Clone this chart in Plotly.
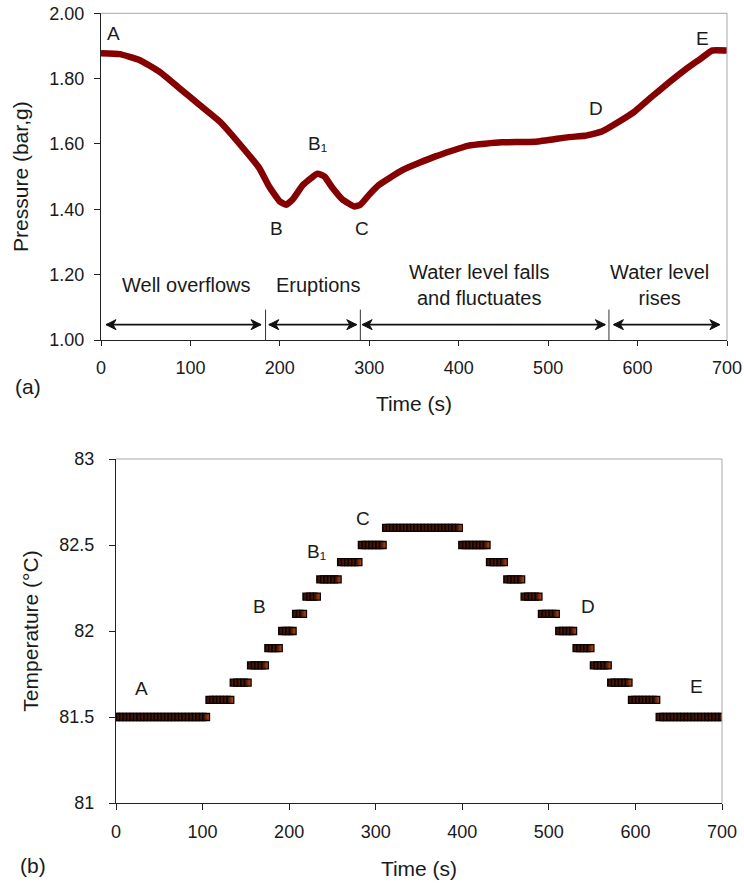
import plotly.graph_objects as go

# ---------------- data: panel (a) pressure ----------------
time_a = [0, 21, 43, 66, 88, 110, 133, 155, 177, 188, 200, 207, 214, 226, 242,
          250, 259, 270, 283, 290, 300, 311, 337, 374, 411, 448, 486, 523, 541,
          560, 579, 597, 616, 634, 653, 671, 683, 700]
pressure = [1.878, 1.875, 1.857, 1.82, 1.77, 1.72, 1.668, 1.60, 1.526, 1.47,
            1.424, 1.414, 1.429, 1.475, 1.509, 1.50, 1.465, 1.43, 1.409, 1.414,
            1.445, 1.475, 1.52, 1.562, 1.595, 1.605, 1.607, 1.621, 1.625, 1.638,
            1.668, 1.70, 1.745, 1.786, 1.827, 1.862, 1.886, 1.886]

phase_bounds = [184, 290, 568]
phase_arrows = [(5.6, 179), (187.6, 286), (292, 564), (573, 692)]
phase_labels = ["Well overflows", "Eruptions",
                "Water level falls<br>and fluctuates", "Water level<br>rises"]
phase_label_x = [95.5, 243, 422.5, 625]

points_a = ["A", "B", "B\u2081", "C", "D", "E"]
points_a_x = [14, 196, 242, 292, 554, 673]
points_a_y = [1.939, 1.342, 1.602, 1.342, 1.709, 1.924]

# ---------------- data: panel (b) temperature (step levels) ----------------
SAMPLE_S = 4  # logger sampling interval (s)
step_start = [0, 108, 136, 156, 176, 192, 208, 220, 236, 260, 284, 312,
              400, 432, 452, 472, 492, 512, 532, 552, 572, 596, 628]
step_end = [104, 132, 152, 172, 188, 204, 216, 232, 256, 280, 308, 396,
            428, 448, 468, 488, 508, 528, 548, 568, 592, 624, 700]
step_temp = [81.5, 81.6, 81.7, 81.8, 81.9, 82.0, 82.1, 82.2, 82.3, 82.4, 82.5, 82.6,
             82.5, 82.4, 82.3, 82.2, 82.1, 82.0, 81.9, 81.8, 81.7, 81.6, 81.5]

points_b = ["A", "B", "B\u2081", "C", "D", "E"]
points_b_x = [29.6, 166, 231.7, 284.8, 545.4, 670.5]
points_b_y = [81.667, 82.14, 82.46, 82.655, 82.14, 81.676]

time_ticks = [0, 100, 200, 300, 400, 500, 600, 700]

# ---------------- figure ----------------
W, H = 744, 883
FONT = "Liberation Sans, Arial, sans-serif"
TXT = "#1a1a1a"


def px_x(p):
    return p / W


def px_y(p):
    return 1 - p / H


fig = go.Figure()

fig.add_trace(go.Scatter(
    x=time_a, y=pressure, mode="lines",
    line=dict(color="#850000", width=6.5, shape="spline", smoothing=0.4),
    xaxis="x", yaxis="y", showlegend=False, hoverinfo="x+y"))

tb, Tb = [], []
for s, e, v in zip(step_start, step_end, step_temp):
    t = s
    while t <= e:
        tb.append(t)
        Tb.append(v)
        t += SAMPLE_S

fig.add_trace(go.Scatter(
    x=tb, y=Tb, mode="markers",
    marker=dict(symbol="square", size=7, color="#160400",
                gradient=dict(type="horizontal", color="#c04c18"),
                line=dict(color="#0e0200", width=1.3)),
    xaxis="x2", yaxis="y2", showlegend=False))

axis_common = dict(showgrid=False, zeroline=False, showline=True, automargin=False,
                   linecolor="#222", linewidth=1, ticks="outside",
                   tickcolor="#222", tickwidth=1,
                   tickfont=dict(family=FONT, size=18, color=TXT))

fig.update_layout(
    width=W, height=H, margin=dict(l=0, r=0, t=0, b=0, autoexpand=False),
    paper_bgcolor="white", plot_bgcolor="white",
    font=dict(family=FONT, color=TXT),
    xaxis=dict(axis_common, domain=[px_x(101), px_x(727)], range=[0, 700],
               tickvals=time_ticks, ticklen=5, ticklabelstandoff=6, anchor="y",
               title=dict(text="Time (s)", font=dict(size=21, family=FONT, color=TXT),
                          standoff=19)),
    yaxis=dict(axis_common, domain=[px_y(340), px_y(13.3)], range=[1, 2],
               dtick=0.2, tick0=1, tickformat=".2f", ticklen=6, ticklabelstandoff=6,
               anchor="x",
               title=dict(text="Pressure (bar,g)", font=dict(size=21, family=FONT, color=TXT),
                          standoff=14)),
    xaxis2=dict(axis_common, domain=[px_x(116), px_x(722)], range=[0, 700],
                tickvals=time_ticks, ticklen=6, ticklabelstandoff=6, anchor="y2",
                title=dict(text="Time (s)", font=dict(size=21, family=FONT, color=TXT),
                           standoff=20)),
    yaxis2=dict(axis_common, domain=[px_y(803), px_y(459)], range=[81, 83],
                dtick=0.5, tick0=81, ticklen=6, ticklabelstandoff=11, anchor="x2",
                title=dict(text="Temperature (\u00b0C)",
                           font=dict(size=21, family=FONT, color=TXT), standoff=15)),
)

shapes = []
for xr, yr in [("x", "y"), ("x2", "y2")]:
    shapes.append(dict(type="line", xref=f"{xr} domain", yref=f"{yr} domain",
                       x0=0, x1=1, y0=1, y1=1, line=dict(color="#a8a8a8", width=1)))
    shapes.append(dict(type="line", xref=f"{xr} domain", yref=f"{yr} domain",
                       x0=1, x1=1, y0=0, y1=1, line=dict(color="#a8a8a8", width=1)))
for b in phase_bounds:
    shapes.append(dict(type="line", xref="x", yref="y", x0=b, x1=b, y0=1.0, y1=1.093,
                       line=dict(color="#333", width=1)))

# double-headed arrows: shaft + two barbed heads (pixel-sized paths)
ARROW_Y = 1.047
HEAD_R = "M 0,0 L -10,5 L -7,0 L -10,-5 Z"
HEAD_L = "M 0,0 L 10,5 L 7,0 L 10,-5 Z"
for a0, a1 in phase_arrows:
    shapes.append(dict(type="line", xref="x", yref="y", x0=a0 + 0.5, x1=a1 - 0.5,
                       y0=ARROW_Y, y1=ARROW_Y, line=dict(color="#111", width=1.8)))
    for tip, path in [(a1, HEAD_R), (a0, HEAD_L)]:
        shapes.append(dict(type="path", xref="x", yref="y", xsizemode="pixel",
                           ysizemode="pixel", xanchor=tip, yanchor=ARROW_Y, path=path,
                           fillcolor="#111", line=dict(color="#111", width=1)))
fig.update_layout(shapes=shapes)

ann = []
C = dict(showarrow=False, xanchor="center", yanchor="middle")
for lab, lx in zip(phase_labels, phase_label_x):
    ann.append(dict(C, x=lx, y=1.168, xref="x", yref="y", text=lab,
                    font=dict(size=20, family=FONT, color=TXT)))
for lab, lx, ly in zip(points_a, points_a_x, points_a_y):
    ann.append(dict(C, x=lx, y=ly, xref="x", yref="y", text=lab,
                    font=dict(size=19, family=FONT, color=TXT)))
for lab, lx, ly in zip(points_b, points_b_x, points_b_y):
    ann.append(dict(C, x=lx, y=ly, xref="x2", yref="y2", text=lab,
                    font=dict(size=19, family=FONT, color=TXT)))
ann.append(dict(C, x=px_x(28), y=px_y(387), xref="paper", yref="paper", text="(a)",
                font=dict(size=21, family=FONT, color=TXT)))
ann.append(dict(C, x=px_x(33), y=px_y(865), xref="paper", yref="paper", text="(b)",
                font=dict(size=21, family=FONT, color=TXT)))
fig.update_layout(annotations=ann)

fig.write_html("out.html")
